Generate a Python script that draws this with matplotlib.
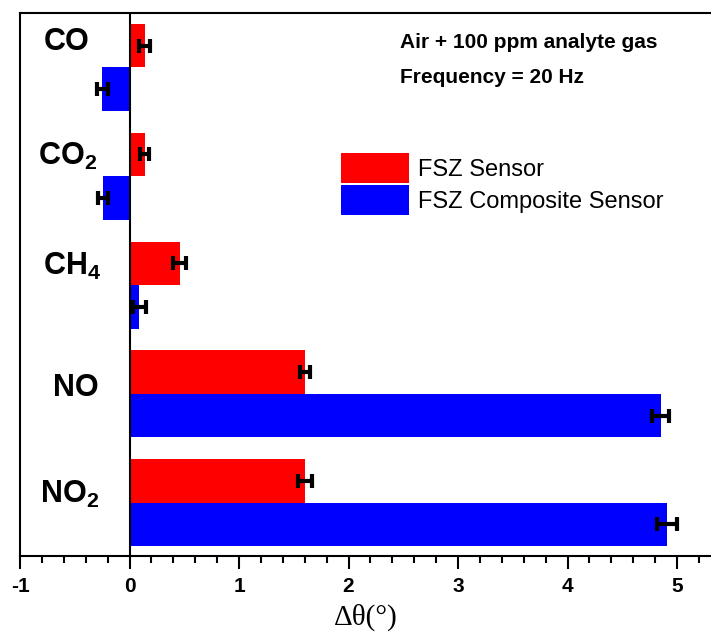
import matplotlib
matplotlib.use("Agg")
import matplotlib.pyplot as plt
import numpy as np

plt.rcParams['font.family'] = ['Liberation Sans', 'DejaVu Sans']
plt.rcParams['mathtext.fontset'] = 'custom'
plt.rcParams['mathtext.rm'] = 'Liberation Sans:bold'
plt.rcParams['mathtext.bf'] = 'Liberation Sans:bold'
plt.rcParams['mathtext.default'] = 'bf'

categories = ['CO', 'CO$_2$', 'CH$_4$', 'NO', 'NO$_2$']
fsz = [0.14, 0.14, 0.46, 1.60, 1.60]
fsz_err = [0.05, 0.04, 0.06, 0.045, 0.065]
comp = [-0.25, -0.24, 0.09, 4.85, 4.91]
comp_err = [0.05, 0.045, 0.06, 0.08, 0.09]
series_names = ['FSZ Sensor', 'FSZ Composite Sensor']
xticks = [-1, 0, 1, 2, 3, 4, 5]

fig = plt.figure(figsize=(7.11, 6.36), dpi=100)
ax = fig.add_axes([20/711, 1-556/636, 1-20/711, (556-13)/636])

n = len(categories)
ypos = np.arange(n)[::-1]  # CO at top
h = 0.40
ekw = dict(elinewidth=3, capthick=3, ecolor='black')
ax.barh(ypos + h/2, fsz, height=h, color='#FF0000', label=series_names[0],
        xerr=fsz_err, capsize=5, error_kw=ekw, zorder=2)
ax.barh(ypos - h/2, comp, height=h, color='#0000FF', label=series_names[1],
        xerr=comp_err, capsize=5, error_kw=ekw, zorder=2)

ax.axvline(0, color='black', lw=1.5, zorder=3)

label_x = [-0.57, -0.57, -0.52, -0.49, -0.55]
label_offsets = [0.23, 0.18, 0.17, 0.05, 0.08]
for y, c, lx, off in zip(ypos, categories, label_x, label_offsets):
    ax.text(lx, y + off, c, ha='center', va='center', fontsize=22,
            fontweight='bold')

ax.set_xlim(-1, 5.31)
ax.set_ylim(-0.49, 4.5)
ax.set_xticks(xticks)
ax.set_xticklabels([str(t) for t in xticks], fontsize=15, fontweight='bold')
ax.set_xticks(np.arange(-1, 5.31, 0.2), minor=True)
ax.tick_params(axis='x', which='major', direction='out', length=9, width=1.5, pad=6)
ax.tick_params(axis='x', which='minor', direction='out', length=5, width=1.5)
ax.set_yticks([])
for s in ['left', 'top', 'bottom']:
    ax.spines[s].set_linewidth(1.5)
ax.spines['right'].set_visible(False)

ax.set_xlabel('Δθ(°)', family=['Liberation Serif', 'DejaVu Serif'], fontsize=21,
              labelpad=6)

ax.text(0.55, 0.945, 'Air + 100 ppm analyte gas', transform=ax.transAxes,
        fontsize=15, fontweight='bold', ha='left', va='center')
ax.text(0.55, 0.882, 'Frequency = 20 Hz', transform=ax.transAxes,
        fontsize=15, fontweight='bold', ha='left', va='center')

leg = ax.legend(loc='upper left', bbox_to_anchor=(312/691, 1-(144-13)/543),
                frameon=False, fontsize=17, handlelength=2.85, handleheight=1.55,
                labelspacing=0.1, handletextpad=0.4, borderaxespad=0)

fig.savefig('out.png', dpi=100)
